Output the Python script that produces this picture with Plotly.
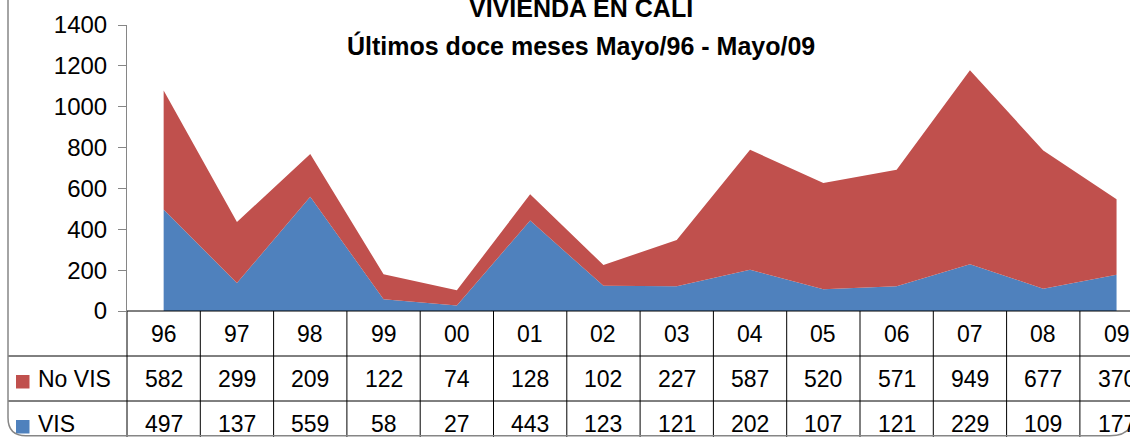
import plotly.graph_objects as go

categories = ["96", "97", "98", "99", "00", "01", "02", "03", "04", "05", "06", "07", "08", "09"]
no_vis = [582, 299, 209, 122, 74, 128, 102, 227, 587, 520, 571, 949, 677, 370]
vis = [497, 137, 559, 58, 27, 443, 123, 121, 202, 107, 121, 229, 109, 177]
y_ticks = [0, 200, 400, 600, 800, 1000, 1200, 1400]
series_names = ["No VIS", "VIS"]
title_lines = ["VIVIENDA EN CALI", "Últimos doce meses Mayo/96 - Mayo/09"]

RED = "#C0504D"
BLUE = "#4F81BD"
GRAY = "#868686"
FONT = "Liberation Sans, Arial, sans-serif"

W, H = 1130, 437
PLOT_L = 127          # px left edge of plot area
COL_W = 73.3          # px per category
Y_BOT = 311           # px of value 0
Y_TOP = 25            # px of value 1400
ROW_H = 45
TABLE_L = 8

def px(xp):
    return xp / W

def py(yp):
    return 1 - yp / H

n = len(categories)
xs = list(range(n))

fig = go.Figure()
fig.add_trace(go.Scatter(x=xs, y=vis, name="VIS", mode="lines", stackgroup="one",
                         line=dict(width=0, color=BLUE), fillcolor=BLUE))
fig.add_trace(go.Scatter(x=xs, y=no_vis, name="No VIS", mode="lines", stackgroup="one",
                         line=dict(width=0, color=RED), fillcolor=RED))

x_right = -0.5 + (W - PLOT_L) / COL_W

fig.update_layout(
    width=W, height=H,
    margin=dict(l=0, r=0, t=0, b=0, pad=0, autoexpand=False),
    paper_bgcolor="white", plot_bgcolor="white",
    showlegend=False,
    font=dict(family=FONT, color="black"),
    xaxis=dict(domain=[px(PLOT_L), 1], range=[-0.5, x_right], visible=False,
               fixedrange=True, automargin=False),
    yaxis=dict(domain=[py(Y_BOT), py(Y_TOP)], range=[0, 1400], tickvals=y_ticks,
               ticks="outside", ticklen=8, tickcolor=GRAY, tickwidth=1, automargin=False,
               showline=True, linecolor=GRAY, linewidth=1, showgrid=False, zeroline=False,
               tickfont=dict(size=24, color="black", family=FONT), ticklabelstandoff=6),
)

shapes = []
annotations = []

def col_edge(k):
    return PLOT_L + k * COL_W

def col_center(k):
    return PLOT_L + (k + 0.5) * COL_W

# table horizontal lines
shapes.append(dict(type="line", xref="paper", yref="paper", x0=px(PLOT_L), x1=1.05,
                   y0=py(Y_BOT), y1=py(Y_BOT), line=dict(color="black", width=1)))
for r in (1, 2):
    yy = Y_BOT + r * ROW_H
    shapes.append(dict(type="line", xref="paper", yref="paper", x0=px(TABLE_L), x1=1.05,
                       y0=py(yy), y1=py(yy), line=dict(color="black", width=1)))
# table vertical lines
for k in range(n + 1):
    xx = col_edge(k)
    shapes.append(dict(type="line", xref="paper", yref="paper", x0=px(xx), x1=px(xx),
                       y0=py(Y_BOT), y1=py(H + 5), line=dict(color="black", width=1)))

# header row
for k, c in enumerate(categories):
    annotations.append(dict(xref="paper", yref="paper", x=px(col_center(k)),
                            y=py(Y_BOT + ROW_H / 2), text=c, showarrow=False,
                            xanchor="center", yanchor="middle",
                            font=dict(size=23, family=FONT, color="black")))

rows = [(series_names[0], no_vis, RED), (series_names[1], vis, BLUE)]
for i, (name, vals, colr) in enumerate(rows):
    yc = Y_BOT + (i + 1.5) * ROW_H
    shapes.append(dict(type="rect", xref="paper", yref="paper",
                       x0=px(16), x1=px(29.5), y0=py(yc - 3.5), y1=py(yc + 10),
                       fillcolor=colr, line=dict(width=0)))
    annotations.append(dict(xref="paper", yref="paper", x=px(36), y=py(yc),
                            text=name, showarrow=False, xanchor="left", yanchor="middle",
                            font=dict(size=23, family=FONT, color="black")))
    for k, v in enumerate(vals):
        annotations.append(dict(xref="paper", yref="paper", x=px(col_center(k)), y=py(yc),
                                text=str(v), showarrow=False, xanchor="center", yanchor="middle",
                                font=dict(size=23, family=FONT, color="black")))

# outer chart border with rounded corners (drawn last, above table)
rl, rr = 18, 24
L, R, T, B = TABLE_L, 1134, -20, H - 1.2
path = (f"M {px(L)},{py(T)} L {px(L)},{py(B - rl)} "
        f"Q {px(L)},{py(B)} {px(L + rl)},{py(B)} "
        f"L {px(R - rr)},{py(B)} Q {px(R)},{py(B)} {px(R)},{py(B - rr)} "
        f"L {px(R)},{py(T)}")
shapes.append(dict(type="path", xref="paper", yref="paper", path=path,
                   line=dict(color=GRAY, width=1.5)))

# titles
annotations.append(dict(xref="paper", yref="paper", x=px(581), y=py(8), text=f"<b>{title_lines[0]}</b>",
                        showarrow=False, xanchor="center", yanchor="middle",
                        font=dict(size=25, family=FONT, color="black")))
annotations.append(dict(xref="paper", yref="paper", x=px(581), y=py(45), text=f"<b>{title_lines[1]}</b>",
                        showarrow=False, xanchor="center", yanchor="middle",
                        font=dict(size=25, family=FONT, color="black")))

fig.update_layout(shapes=shapes, annotations=annotations)
fig.write_html(
    "out.html",
    config={"displayModeBar": False},
    post_script="document.body.style.margin='0';document.body.style.padding='0';"
                "document.body.style.overflow='hidden';",
)
